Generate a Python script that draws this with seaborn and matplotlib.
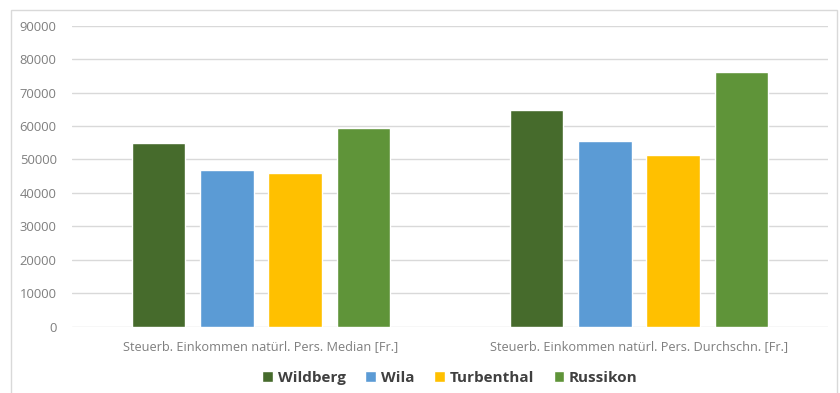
import matplotlib
matplotlib.use("Agg")
import matplotlib.pyplot as plt
import seaborn as sns
import pandas as pd
from matplotlib.patches import Rectangle

# Steuerbares Einkommen natürlicher Personen, Gemeindevergleich
categories = [
    "Steuerb. Einkommen natürl. Pers. Median [Fr.]",
    "Steuerb. Einkommen natürl. Pers. Durchschn. [Fr.]",
]
gemeinden = ["Wildberg", "Wila", "Turbenthal", "Russikon"]
wildberg = [55000, 64900]
wila = [46700, 55500]
turbenthal = [45900, 51400]
russikon = [59500, 76100]
yticks = [0, 10000, 20000, 30000, 40000, 50000, 60000, 70000, 80000, 90000]

colors = ["#466B2C", "#5B9BD5", "#FFC000", "#5F9439"]

series = dict(zip(gemeinden, [wildberg, wila, turbenthal, russikon]))
rows = []
for g, vals in series.items():
    for c, v in zip(categories, vals):
        rows.append({"Kategorie": c, "Gemeinde": g, "Wert": v})
df = pd.DataFrame(rows)

sns.set_theme(style="white")
plt.rcParams["font.family"] = ["Open Sans", "DejaVu Sans"]

W, H = 840, 393
fig = plt.figure(figsize=(W / 100, H / 100), dpi=100)
ax = fig.add_axes([72 / W, 1 - 326.5 / H, (828 - 72) / W, (326.5 - 25.7) / H])

sns.barplot(
    data=df, x="Kategorie", y="Wert", hue="Gemeinde",
    order=categories, hue_order=gemeinden, palette=colors,
    width=0.72, gap=0.22, saturation=1, errorbar=None, ax=ax,
)

ax.set_ylim(0, 90000)
ax.set_yticks(yticks)
ax.set_yticklabels([str(t) for t in yticks])
ax.yaxis.grid(True, color="#D9D9D9", linewidth=1)
ax.set_axisbelow(True)
for s in ax.spines.values():
    s.set_visible(False)
ax.tick_params(axis="both", length=0, colors="#7F7F7F")
ax.tick_params(axis="y", pad=11, labelsize=9.4)
ax.tick_params(axis="x", pad=10, labelsize=9.2)
ax.set_xlabel("")
ax.set_ylabel("")

leg = ax.legend(
    loc="center", bbox_to_anchor=(0.5, (1 - 378 / H - (1 - 326.5 / H)) / ((326.5 - 25.7) / H)),
    ncol=4, frameon=False, handlelength=0.7, handleheight=0.7,
    handletextpad=0.3, columnspacing=1.3,
    prop={"size": 11, "weight": "bold"},
)
for t in leg.get_texts():
    t.set_color("#404040")

# chart frame
fig.patches.append(Rectangle((11 / W, -0.05), (837 - 11) / W, 1 - 10 / H + 0.05,
                             transform=fig.transFigure, fill=False,
                             edgecolor="#D9D9D9", linewidth=1))

fig.savefig("out.png", dpi=100, facecolor="white")
